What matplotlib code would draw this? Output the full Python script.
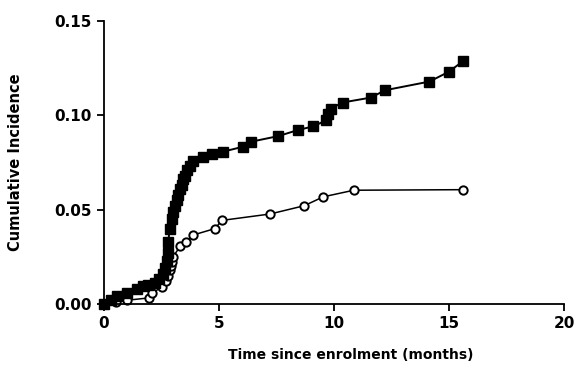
import matplotlib
matplotlib.use("Agg")
import matplotlib.pyplot as plt

# Filled squares series
sq_x = [0, 0.3, 0.55, 1.0, 1.42, 1.71, 1.9, 2.2, 2.4, 2.55, 2.65, 2.72, 2.8, 2.8, 2.85,
        2.94, 3.02, 3.09, 3.16, 3.23, 3.3, 3.38, 3.45, 3.52, 3.62, 3.74, 3.89, 4.3, 4.7,
        5.16, 6.06, 6.39, 7.58, 8.43, 9.08, 9.66, 9.76, 9.87, 10.37, 11.60, 12.22, 14.15,
        14.98, 15.60]
sq_y = [0, 0.002, 0.004, 0.006, 0.008, 0.0096, 0.010, 0.011, 0.013, 0.016, 0.019, 0.023,
        0.027, 0.033, 0.040, 0.045, 0.049, 0.052, 0.055, 0.058, 0.061, 0.063, 0.066, 0.068,
        0.071, 0.073, 0.076, 0.078, 0.0795, 0.0807, 0.0834, 0.086, 0.089, 0.0922, 0.0941,
        0.0973, 0.1005, 0.1036, 0.1068, 0.1094, 0.1133, 0.1179, 0.123, 0.1286]

# Open circles series
ci_x = [0, 0.5, 1.0, 1.94, 2.1, 2.5, 2.7, 2.8, 2.85, 2.9, 2.94, 3.0, 3.31, 3.57, 3.86,
        4.83, 5.12, 7.22, 8.71, 9.53, 10.86, 15.62]
ci_y = [0, 0.001, 0.002, 0.0032, 0.0057, 0.009, 0.012, 0.015, 0.018, 0.020, 0.022, 0.025,
        0.0305, 0.0328, 0.0365, 0.040, 0.0443, 0.0477, 0.0521, 0.0568, 0.0603, 0.0606]

x_ticks = [0, 5, 10, 15, 20]
y_ticks = [0.00, 0.05, 0.10, 0.15]
y_tick_labels = ["0.00", "0.05", "0.10", "0.15"]

plt.rcParams['font.family'] = ['DejaVu Sans']

fig = plt.figure(figsize=(5.74, 3.66), dpi=100)
ax = fig.add_axes([104/574, 1-304/366, (564-104)/574, (304-21)/366])

ax.plot(ci_x, ci_y, '-o', color='black', lw=1.1, ms=6, mfc='white', mec='black', mew=1.4, zorder=2)
ax.plot(sq_x, sq_y, '-s', color='black', lw=1.4, ms=7, mfc='black', mec='black', zorder=3)

ax.set_xlim(0, 20)
ax.set_ylim(0, 0.15)
ax.set_xticks(x_ticks)
ax.set_yticks(y_ticks)
ax.set_yticklabels(y_tick_labels)
for s in ['top', 'right']:
    ax.spines[s].set_visible(False)
for s in ['left', 'bottom']:
    ax.spines[s].set_linewidth(1.3)
ax.tick_params(axis='both', length=5, width=1.3, labelsize=11, direction='out', pad=4)
for lab in ax.get_xticklabels() + ax.get_yticklabels():
    lab.set_fontweight('bold')
ax.set_xlabel("Time since enrolment (months)", fontsize=10, fontweight='bold', labelpad=12)
ax.xaxis.set_label_coords(0.537, -0.155)
ax.set_ylabel("Cumulative Incidence", fontsize=10.5, fontweight='bold', labelpad=22)
for l in ax.get_lines():
    l.set_clip_on(False)

fig.savefig("out.png", dpi=100)
